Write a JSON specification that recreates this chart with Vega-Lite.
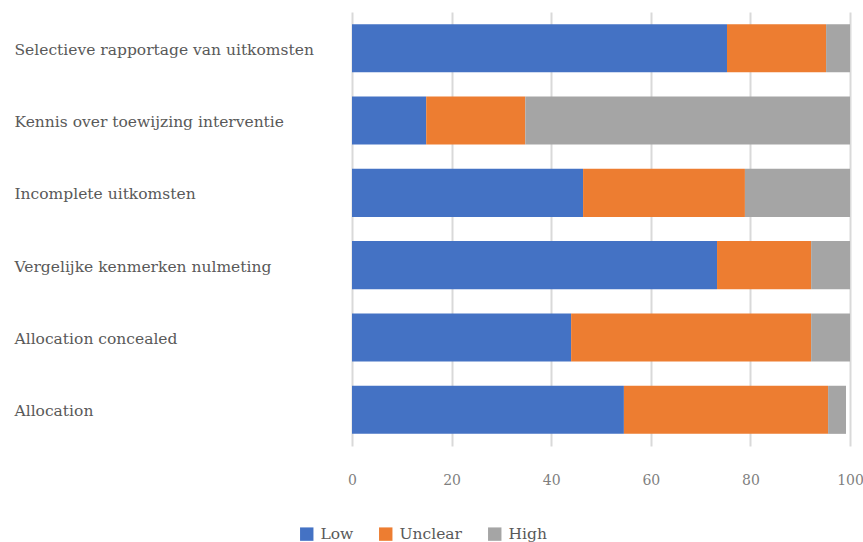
{
  "$schema": "https://vega.github.io/schema/vega-lite/v6.json",
  "autosize": "none",
  "width": 498,
  "height": 434,
  "padding": {"left": 352, "top": 12, "right": 13, "bottom": 96},
  "background": "white",
  "config": {
    "view": {"stroke": null},
    "font": "DejaVu Serif"
  },
  "data": {
    "values": [
      {"item": "Selectieve rapportage van uitkomsten", "risk": "Low", "k": 1, "value": 75.3},
      {"item": "Selectieve rapportage van uitkomsten", "risk": "Unclear", "k": 2, "value": 19.9},
      {"item": "Selectieve rapportage van uitkomsten", "risk": "High", "k": 3, "value": 4.8},
      {"item": "Kennis over toewijzing interventie", "risk": "Low", "k": 1, "value": 14.9},
      {"item": "Kennis over toewijzing interventie", "risk": "Unclear", "k": 2, "value": 19.9},
      {"item": "Kennis over toewijzing interventie", "risk": "High", "k": 3, "value": 65.2},
      {"item": "Incomplete uitkomsten", "risk": "Low", "k": 1, "value": 46.4},
      {"item": "Incomplete uitkomsten", "risk": "Unclear", "k": 2, "value": 32.5},
      {"item": "Incomplete uitkomsten", "risk": "High", "k": 3, "value": 21.1},
      {"item": "Vergelijke kenmerken nulmeting", "risk": "Low", "k": 1, "value": 73.3},
      {"item": "Vergelijke kenmerken nulmeting", "risk": "Unclear", "k": 2, "value": 18.9},
      {"item": "Vergelijke kenmerken nulmeting", "risk": "High", "k": 3, "value": 7.8},
      {"item": "Allocation concealed", "risk": "Low", "k": 1, "value": 44.0},
      {"item": "Allocation concealed", "risk": "Unclear", "k": 2, "value": 48.2},
      {"item": "Allocation concealed", "risk": "High", "k": 3, "value": 7.8},
      {"item": "Allocation", "risk": "Low", "k": 1, "value": 54.6},
      {"item": "Allocation", "risk": "Unclear", "k": 2, "value": 41.0},
      {"item": "Allocation", "risk": "High", "k": 3, "value": 3.6}
    ]
  },
  "mark": {"type": "bar"},
  "encoding": {
    "y": {
      "field": "item",
      "type": "nominal",
      "sort": null,
      "scale": {"paddingInner": 0.335, "paddingOuter": 0.168},
      "axis": {
        "title": null,
        "domain": false,
        "ticks": false,
        "labelAlign": "left",
        "labelPadding": 338,
        "labelFontSize": 15.5,
        "labelOffset": 1.5,
        "labelColor": "#595959",
        "labelFont": "DejaVu Serif",
        "labelLimit": 340
      }
    },
    "x": {
      "field": "value",
      "type": "quantitative",
      "stack": "zero",
      "scale": {"domain": [0, 100], "nice": false},
      "axis": {
        "title": null,
        "values": [0, 20, 40, 60, 80, 100],
        "domain": false,
        "ticks": false,
        "labelFlush": false,
        "labelDx": -2,
        "labelPadding": 27,
        "labelFontSize": 14,
        "labelColor": "#7f7f7f",
        "labelFont": "DejaVu Serif",
        "gridColor": "#d9d9d9",
        "gridWidth": 2
      }
    },
    "color": {
      "field": "risk",
      "type": "nominal",
      "scale": {"domain": ["Low", "Unclear", "High"], "range": ["#4472C4", "#ED7D31", "#A5A5A5"]},
      "legend": {
        "title": null,
        "orient": "none",
        "direction": "horizontal",
        "legendX": -53,
        "legendY": 514,
        "symbolType": "square",
        "symbolSize": 180,
        "symbolStrokeWidth": 0,
        "labelFontSize": 15.5,
        "labelColor": "#595959",
        "labelFont": "DejaVu Serif",
        "columnPadding": 24,
        "labelOffset": 6
      }
    },
    "order": {"field": "k", "type": "quantitative"}
  }
}
